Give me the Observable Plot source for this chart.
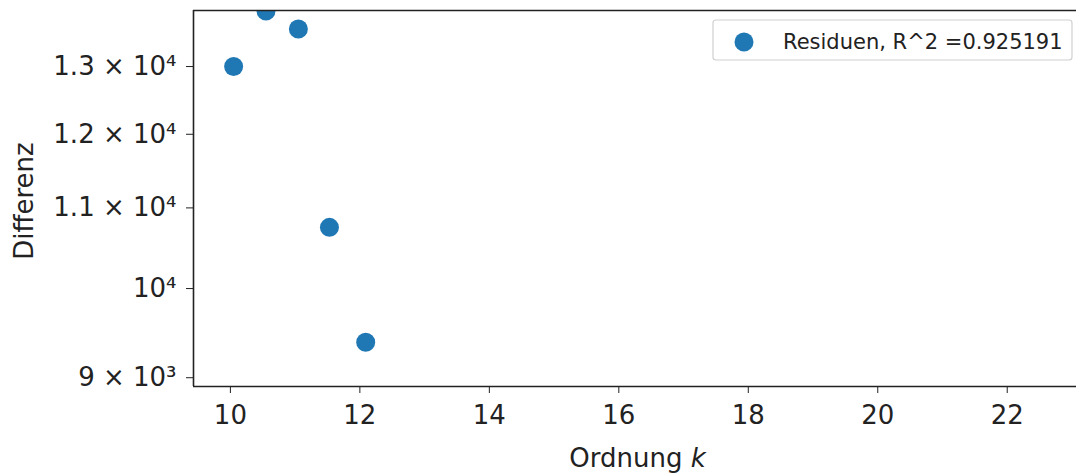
<!DOCTYPE html>
<html>
<head>
<meta charset="utf-8">
<script src="https://cdn.jsdelivr.net/npm/d3@7"></script>
<script src="https://cdn.jsdelivr.net/npm/@observablehq/plot@0.6"></script>
<style>
  html, body { margin: 0; padding: 0; background: #fff; }
  #chart svg { display: block; }
</style>
</head>
<body>
<div id="chart"></div>
<script>
// Data
const orders = [10.05, 10.55, 11.05, 11.53, 12.09];
const residuals = [13000, 13880, 13590, 10750, 9385];
const xDomain = [9.43, 23.07];
const yDomain = [8907, 13890];
const xTicks = [10, 12, 14, 16, 18, 20, 22];
const yTicks = [9000, 10000, 11000, 12000, 13000];
const yTickLabels = ["9 × 10³", "10⁴", "1.1 × 10⁴", "1.2 × 10⁴", "1.3 × 10⁴"];
const legendLabel = "Residuen, R^2 =0.925191";

const data = orders.map((k, i) => ({k, r: residuals[i]}));
const blue = "#1f77b4";
const ink = "#222";
const FONT = "'DejaVu Sans', sans-serif";

const plot = Plot.plot({
  width: 1076,
  height: 473,
  marginLeft: 193,
  marginRight: 0,
  marginTop: 10,
  marginBottom: 87,
  style: {fontFamily: FONT, fontSize: "26px", color: ink, background: "#fff"},
  x: {domain: xDomain, ticks: xTicks, tickFormat: d => String(d), tickSize: 7, tickPadding: 12, label: null},
  y: {type: "log", domain: yDomain, ticks: yTicks,
      tickFormat: d => yTickLabels[yTicks.indexOf(d)], tickSize: 7, tickPadding: 10, label: null},
  marks: [
    Plot.dot(data, {x: "k", y: "r", r: 9.5, fill: blue, stroke: "none", clip: true}),
    Plot.ruleX([xDomain[0]], {stroke: ink, strokeWidth: 1.6}),
    Plot.ruleY([yDomain[0]], {stroke: ink, strokeWidth: 1.6}),
    Plot.ruleY([yDomain[1]], {stroke: ink, strokeWidth: 1.6})
  ]
});

document.getElementById("chart").appendChild(plot);

const svg = d3.select(plot);
const xr = plot.scale("x").range;
const yr = plot.scale("y").range;
const cx = (xr[0] + xr[1]) / 2;
const cy = (yr[0] + yr[1]) / 2;

// x-axis label
const xl = svg.append("text")
  .attr("x", cx + 3).attr("y", 467)
  .attr("text-anchor", "middle")
  .attr("fill", ink)
  .style("font-family", FONT).style("font-size", "26px");
xl.append("tspan").text("Ordnung ");
xl.append("tspan").attr("font-style", "italic").text("k");

// y-axis label
svg.append("text")
  .attr("transform", `translate(33,${cy + 3}) rotate(-90)`)
  .attr("text-anchor", "middle")
  .attr("fill", ink)
  .style("font-family", FONT).style("font-size", "26px")
  .text("Differenz");

// legend
const lg = svg.append("g");
lg.append("rect")
  .attr("x", 713).attr("y", 20).attr("width", 359).attr("height", 40)
  .attr("rx", 3)
  .attr("fill", "#fff").attr("fill-opacity", 0.8)
  .attr("stroke", "#d0d0d0").attr("stroke-width", 1.2);
lg.append("circle")
  .attr("cx", 744).attr("cy", 42).attr("r", 9.5).attr("fill", blue);
lg.append("text")
  .attr("x", 783).attr("y", 49)
  .attr("text-anchor", "start")
  .attr("fill", ink)
  .style("font-family", FONT).style("font-size", "21px")
  .text(legendLabel);
</script>
</body>
</html>
